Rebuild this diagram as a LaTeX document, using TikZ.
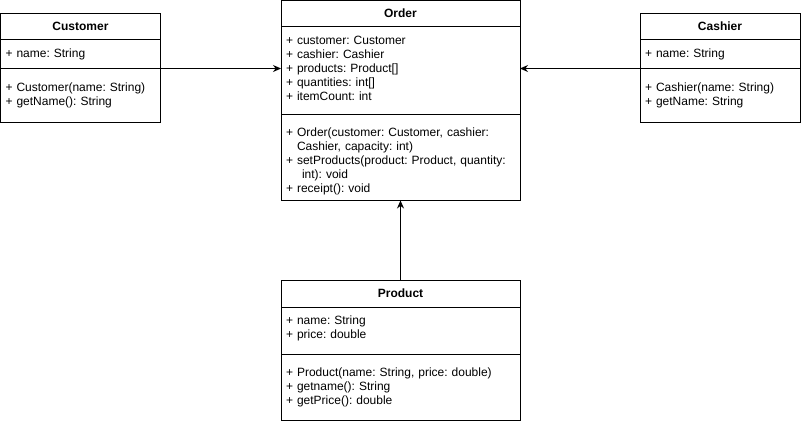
\documentclass[tikz,border=0pt]{standalone}
\usepackage{fontspec}
\setmainfont{Liberation Sans}
\frenchspacing
\usepackage{tikz}
\usetikzlibrary{arrows.meta,positioning}
\newcommand{\UmlTip}{Stealth[length=8pt,width=7pt]}
\tikzset{cls/.style={draw,rectangle,outer sep=0pt,inner xsep=5pt,inner ysep=0pt,align=left,line width=1pt,font=\fontsize{12}{14}\selectfont}}
\tikzset{hd/.style={cls,align=center,font=\fontsize{12}{14}\selectfont\bfseries}}
\tikzset{dep/.style={-{\UmlTip},line width=1pt}}

\begin{document}
\begin{tikzpicture}[x=1pt,y=-1pt]
\useasboundingbox(0,0)rectangle(801,424);
\begin{scope}[text width=150pt]
\node(custH)[hd,minimum height=26pt,anchor=north west]at(0.5,13.5){Customer};
\node(custA)[cls,minimum height=29pt,below=0pt of custH]{+ name: String};
\node(custM)[cls,minimum height=54pt,below=0pt of custA]{+ Customer(name: String)\\+ getName(): String};
\node(cashH)[hd,minimum height=26pt,anchor=north west]at(640,13.5){Cashier};
\node(cashA)[cls,minimum height=29pt,below=0pt of cashH]{+ name: String};
\node(cashM)[cls,minimum height=54pt,below=0pt of cashA]{+ Cashier(name: String)\\+ getName: String};
\end{scope}
\begin{scope}[text width=229pt]
\node(ordH)[hd,minimum height=26pt,anchor=north west]at(281,0.5){Order};
\node(ordA)[cls,minimum height=88pt,below=0pt of ordH]{+ customer: Customer\\+ cashier: Cashier\\+ products: Product[]\\+ quantities: int[]\\+ itemCount: int\rule[-4pt]{0pt}{0pt}};
\node(ordM)[cls,minimum height=86pt,below=0pt of ordA]{\rule{0pt}{16.7pt}+ Order(customer: Customer, cashier:\\\hspace*{11pt}Cashier, capacity: int)\\+ setProducts(product: Product, quantity:\\\hspace*{16pt}int): void\\+ receipt(): void};
\node(prodH)[hd,minimum height=27pt,anchor=north west]at(281,280){Product};
\node(prodA)[cls,minimum height=47pt,below=0pt of prodH]{+ name: String\\+ price: double\rule[-6.5pt]{0pt}{0pt}};
\node(prodM)[cls,minimum height=66pt,below=0pt of prodA]{+ Product(name: String, price: double)\\+ getname(): String\\+ getPrice(): double};
\end{scope}
\draw[dep](custA.south east)--(custA.south east-|ordA.west);
\draw[dep](cashA.south west)--(cashA.south west-|ordA.east);
\draw[dep](prodH.north)--(ordM.south);
\end{tikzpicture}
\end{document}
